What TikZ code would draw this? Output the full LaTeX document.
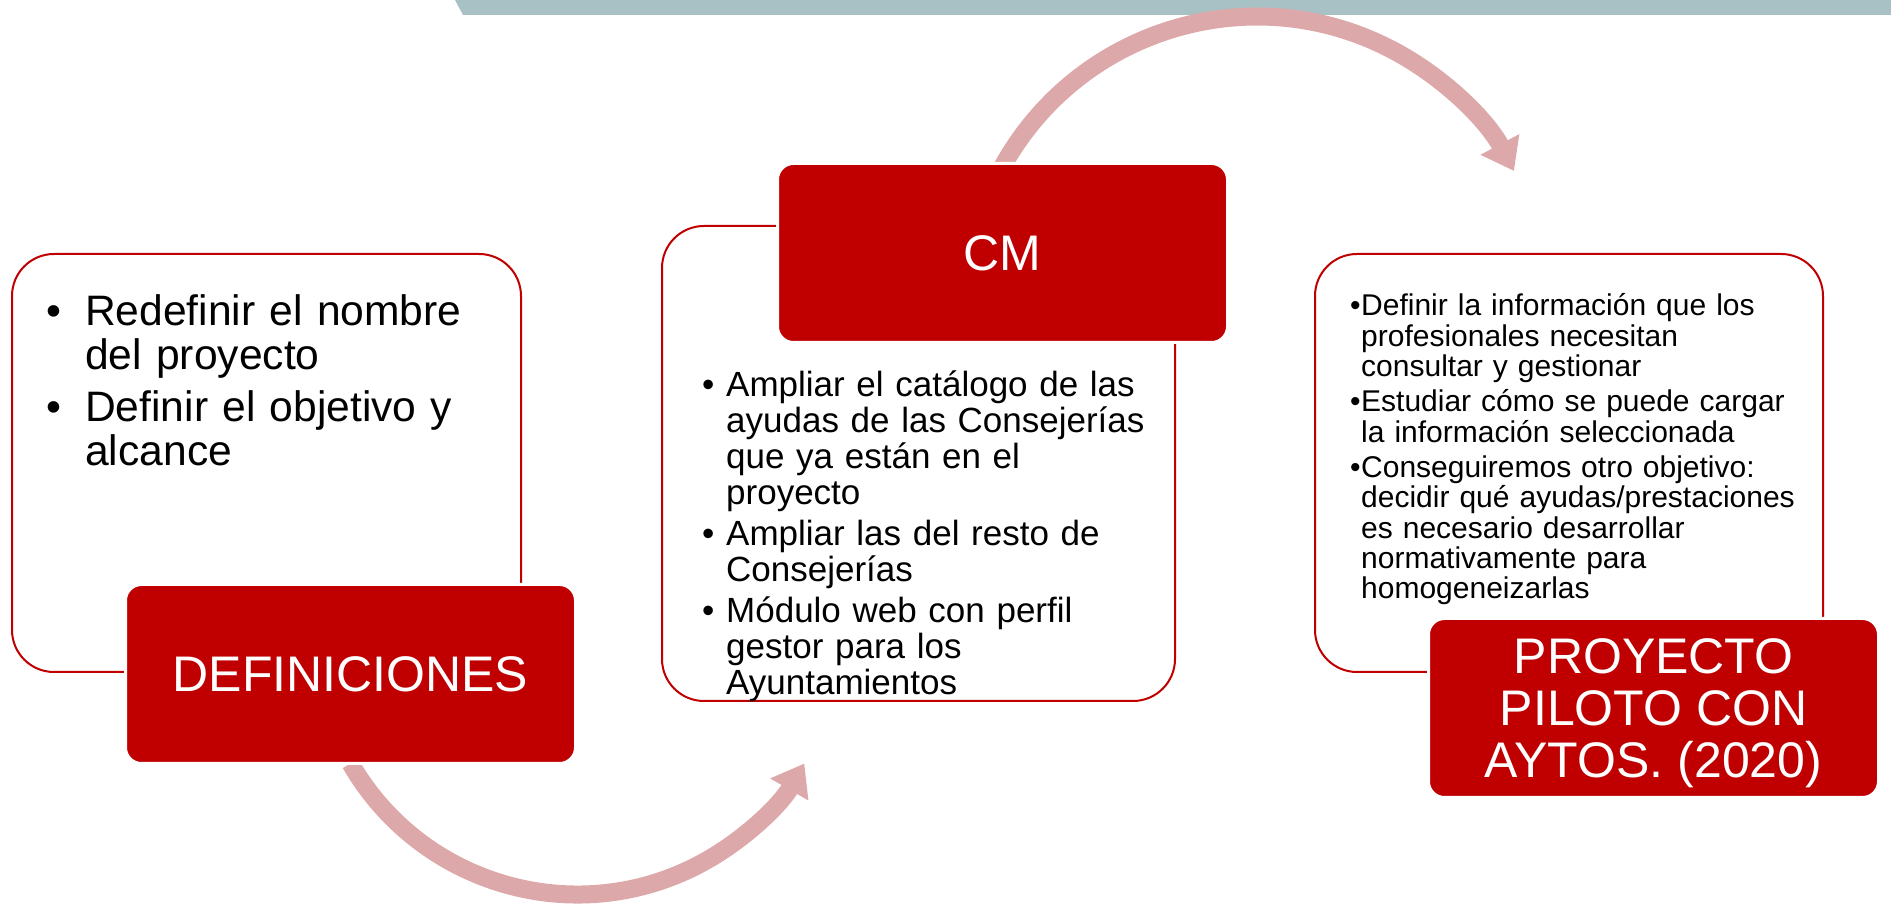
\documentclass[tikz,border=0pt]{standalone}
\usepackage{fontspec}
\setmainfont{Liberation Sans}
\usetikzlibrary{arrows.meta,backgrounds}
\definecolor{R}{RGB}{192,0,0}
\definecolor{P}{RGB}{221,168,170}
\definecolor{G}{RGB}{168,193,197}
\newcommand{\bul}[2]{\hangindent=#1\hangafter=1\noindent\makebox[#1][l]{\textbullet}#2\par}
\newcommand{\drawarc}{\draw[P,line width=18pt,-{Triangle[width=42pt,length=30pt]}]}
\tikzset{
  outbox/.style={draw=R,line width=2pt,rounded corners=42pt},
  redbox/.style={fill=R,draw=white,line width=3pt,rounded corners=16pt,outer sep=0pt,
    minimum width=450pt,minimum height=179pt,text=white,align=center,
    font=\fontsize{50}{52}\selectfont},
  bullets/.style={anchor=base west,inner sep=0pt,align=left}
}
\begin{document}
\begin{tikzpicture}[x=1pt,y=1pt]
\useasboundingbox (0,0) rectangle (1891,904);
\node[outbox,minimum width=509pt,minimum height=418pt] (defbox) at (266.5,441) {};
\node[outbox,minimum width=513pt,minimum height=475pt] (cmbox) at (918.5,440.5) {};
\node[outbox,minimum width=508pt,minimum height=418pt] (pilbox) at (1569,441) {};
\node[redbox] (deftitle) at (350.5,230) {DEFINICIONES};
\node[redbox] (cmtitle) at (1002.5,651) {CM};
\node[redbox,text depth=0pt] (piltitle) at (1653.5,196) {PROYECTO\\PILOTO CON\\AYTOS. (2020)};
\node[bullets,text width=480pt,font=\fontsize{42.6}{44}\selectfont] (deftext) at (46,578)
  {\setlength{\parskip}{8pt}\bul{39pt}{Redefinir el nombre\newline del proyecto}\bul{39pt}{Definir el objetivo y\newline alcance}};
\node[bullets,text width=470pt,font=\fontsize{35}{36}\selectfont] (cmtext) at (702,507)
  {\setlength{\parskip}{5pt}\bul{24pt}{Ampliar el catálogo de las\newline ayudas de las Consejerías\newline que ya están en el\newline proyecto}\bul{24pt}{Ampliar las del resto de\newline Consejerías}\bul{24pt}{Módulo web con perfil\newline gestor para los\newline Ayuntamientos}};
\node[bullets,text width=480pt,font=\fontsize{30}{30.2}\selectfont] (piltext) at (1350,588)
  {\setlength{\parskip}{5.4pt}\bul{11pt}{Definir la información que los\newline profesionales necesitan\newline consultar y gestionar}\bul{11pt}{Estudiar cómo se puede cargar\newline la información seleccionada}\bul{11pt}{Conseguiremos otro objetivo:\newline decidir qué ayudas/prestaciones\newline es necesario desarrollar\newline normativamente para\newline homogeneizarlas}};
\begin{scope}[on background layer]
\fill[G] (455,904) -- (1891,904) -- (1891,889) -- (463,889) -- cycle;
\drawarc (deftitle.south) arc[start angle=210,end angle=330,radius=262];
\drawarc ([yshift=-3pt]cmtitle.north) arc[start angle=151,end angle=28,radius=291];
\end{scope}
\end{tikzpicture}
\end{document}
